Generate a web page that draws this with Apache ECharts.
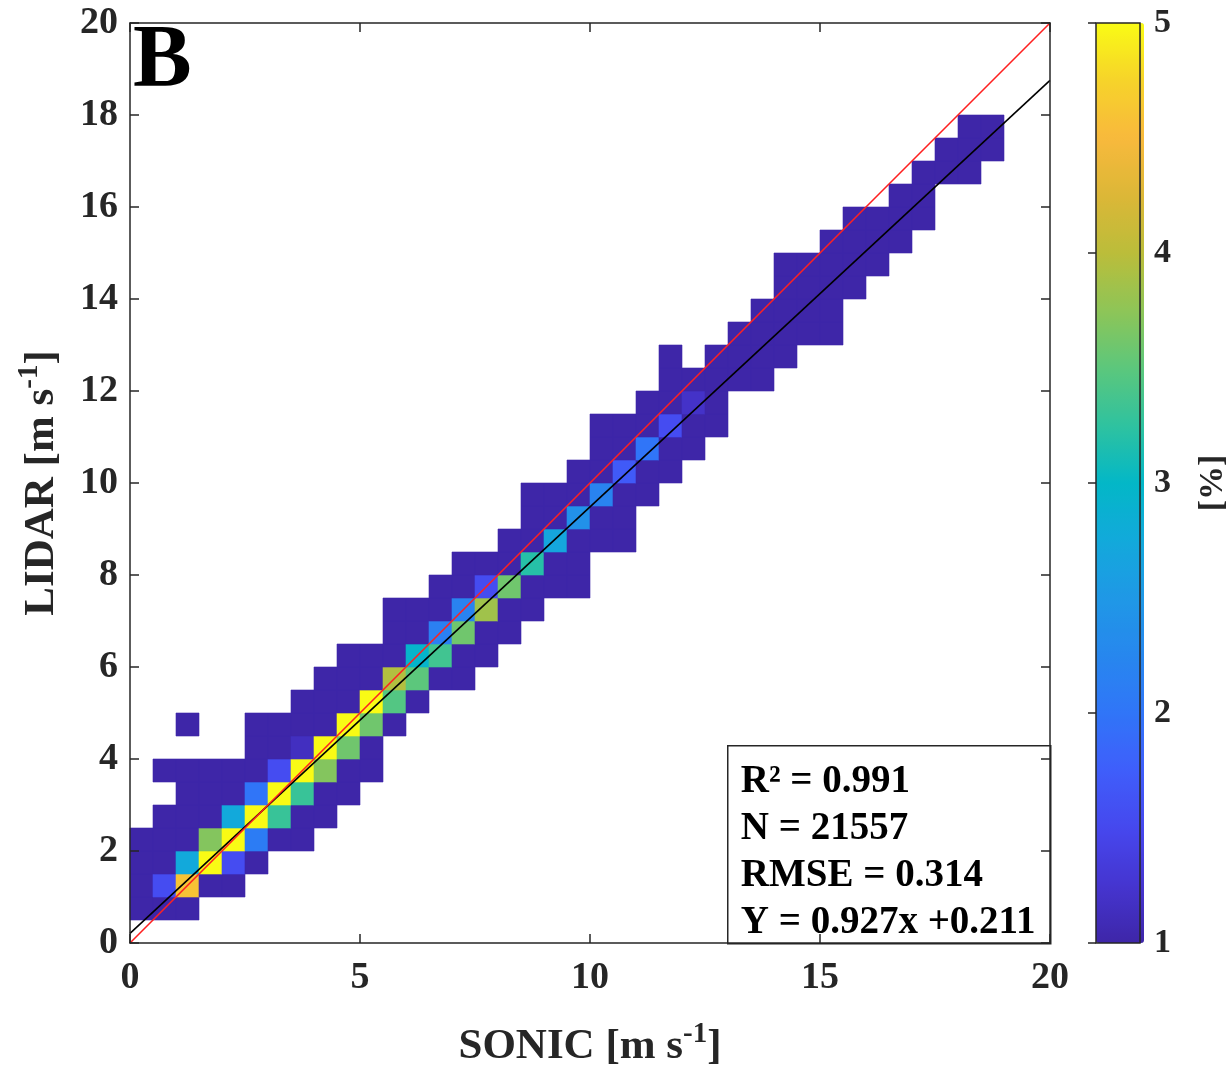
<!DOCTYPE html>
<html>
<head>
<meta charset="utf-8">
<title>LIDAR vs SONIC</title>
<script src="https://cdn.jsdelivr.net/npm/echarts@6/dist/echarts.min.js"></script>
<style>
  html, body { margin: 0; padding: 0; background: #fff; }
  #chart { width: 1231px; height: 1074px; }
</style>
</head>
<body>
<div id="chart"></div>
<script>
// 2D histogram LIDAR vs SONIC, 0.5 m/s bins, colour = share of samples [%]
var binSize = 0.5;
// lower edge of each LIDAR bin (one row each)
var rowY = [0.5, 1.0, 1.5, 2.0, 2.5, 3.0, 3.5, 4.0, 4.5, 5.0, 5.5, 6.0, 6.5, 7.0, 7.5, 8.0, 8.5, 9.0,
            9.5, 10.0, 10.5, 11.0, 11.5, 12.0, 12.5, 13.0, 13.5, 14.0, 14.5, 15.0, 15.5, 16.0, 16.5, 17.0, 17.5];
// lower edge of the first SONIC bin of each row
var rowX0 = [0, 0, 0, 0, 0.5, 1.0, 0.5, 2.5, 1.0, 3.5, 4.0, 4.5, 5.5, 5.5, 6.5, 7.0, 8.0, 8.5,
             8.5, 9.5, 10.0, 10.0, 11.0, 11.5, 11.5, 13.0, 13.5, 14.0, 14.0, 15.0, 15.5, 16.5, 17.0, 17.5, 18.0];
// cell values [%] along each row, null = empty bin
var rowValues = [
  [1, 1, 1],
  [1, 1.55, 4.6, 1, 1],
  [1, 1, 2.75, 5, 1.55, 1],
  [1, 1, 1, 3.7, 5, 2.1, 1, 1],
  [1, 1, 1, 2.75, 5, 3.3, 1, 1],
  [1, 1, 1, 2.0, 5, 3.3, 1, 1],
  [1, 1, 1, 1, 1, 1.55, 5, 3.7, 1, 1],
  [1, 1, 1.15, 5, 3.6, 1],
  [1, null, null, 1, 1, 1, 1, 5, 3.6, 1],
  [1, 1, 1, 5, 3.45, 1],
  [1, 1, 1, 3.95, 3.5, 1, 1],
  [1, 1, 1, 2.95, 3.35, 1, 1],
  [1, 1, 2.15, 3.6, 1, 1],
  [1, 1, 1, 2.2, 3.85, 1, 1],
  [1, 1, 1.55, 3.6, 1, 1, 1],
  [1, 1, 1, 3.2, 1, 1],
  [1, 1, 2.7, 1, 1, 1],
  [1, 1, 2.4, 1, 1],
  [1, 1, 1, 2.2, 1, 1],
  [1, 1, 1.7, 1, 1],
  [1, 1, 2.0, 1, 1],
  [1, 1, 1, 1.55, 1, 1],
  [1, 1, 1.2, 1],
  [1, 1, 1, 1, 1],
  [1, null, 1, 1, 1, 1],
  [1, 1, 1, 1, 1],
  [1, 1, 1, 1],
  [1, 1, 1, 1],
  [1, 1, 1, 1, 1],
  [1, 1, 1, 1],
  [1, 1, 1, 1],
  [1, 1],
  [1, 1, 1],
  [1, 1, 1],
  [1, 1]
];

var fitSlope = 0.927;
var fitIntercept = 0.211;
var statLines = ['R\u00b2 = 0.991', 'N = 21557', 'RMSE = 0.314', 'Y = 0.927x +0.211'];
var parula = ['#3E26A8', '#4535D0', '#4648EE', '#3F5EFB', '#3075F8', '#2787EE', '#1F98E6', '#12A9DB',
              '#03B7C7', '#2FC29F', '#5CC77C', '#8EC557', '#BBBD3A', '#DCB737', '#F8B93C', '#F6D32A', '#F9FB15'];

var cells = [];
rowValues.forEach(function (vals, r) {
  vals.forEach(function (v, k) {
    if (v != null) cells.push([rowX0[r] + k * binSize, rowY[r], v]);
  });
});

var axisColor = '#262626';
var serif = 'Liberation Serif';
var tickFont = { fontFamily: serif, fontWeight: 'bold', fontSize: 38, color: axisColor };
var nameRich = {
  m: { fontFamily: serif, fontWeight: 'bold', fontSize: 43, color: axisColor },
  sup: { fontFamily: serif, fontWeight: 'bold', fontSize: 29, color: axisColor, padding: [0, 0, 24, 0] }
};

function boxAxis(extra) {
  var ax = {
    type: 'value', min: 0, max: 20, z: 6,
    axisLine: { show: true, onZero: false, lineStyle: { color: axisColor, width: 1.5 } },
    axisTick: { show: true, inside: true, length: 9, lineStyle: { color: axisColor, width: 1.5 } },
    axisLabel: { show: false },
    splitLine: { show: false }
  };
  for (var k in extra) ax[k] = extra[k];
  return ax;
}

var chart = echarts.init(document.getElementById('chart'));
var option = {
  animation: false,
  backgroundColor: '#fff',
  grid: [
    { left: 130, top: 23, width: 920, height: 920 },
    { left: 1096, top: 23, width: 48, height: 920, show: true, z: 10,
      borderColor: axisColor, borderWidth: 1.5, backgroundColor: 'transparent' }
  ],
  xAxis: [
    boxAxis({ gridIndex: 0, position: 'bottom', interval: 5,
      axisLabel: Object.assign({ show: true, margin: 16 }, tickFont),
      name: '{m|SONIC [m s}{sup|-1}{m|]}', nameLocation: 'middle', nameGap: 77,
      nameTextStyle: { rich: nameRich } }),
    boxAxis({ gridIndex: 0, position: 'top', interval: 5 }),
    { gridIndex: 1, type: 'value', min: 0, max: 1, show: false }
  ],
  yAxis: [
    boxAxis({ gridIndex: 0, position: 'left', interval: 2,
      axisLabel: Object.assign({ show: true, margin: 12 }, tickFont),
      name: '{m|LIDAR [m s}{sup|-1}{m|]}', nameLocation: 'middle', nameGap: 62, nameRotate: 90,
      nameTextStyle: { rich: nameRich } }),
    boxAxis({ gridIndex: 0, position: 'right', interval: 2 }),
    { gridIndex: 1, type: 'value', min: 1, max: 5, interval: 1, position: 'right', z: 11,
      axisLine: { show: false },
      axisTick: { show: true, inside: true, length: 8, lineStyle: { color: axisColor, width: 1.5 } },
      axisLabel: Object.assign({ margin: 14 }, tickFont, { fontSize: 34 }),
      splitLine: { show: false },
      name: '[%]', nameLocation: 'middle', nameGap: 56, nameRotate: 90,
      nameTextStyle: { fontFamily: serif, fontWeight: 'bold', fontSize: 34, color: axisColor } }
  ],
  visualMap: {
    type: 'continuous', min: 1, max: 5, dimension: 2, seriesIndex: 0,
    calculable: false, hoverLink: false, show: true, padding: 0,
    left: 1096, top: 23, itemWidth: 48, itemHeight: 920,
    inRange: { color: parula }
  },
  series: [
    {
      type: 'custom', xAxisIndex: 0, yAxisIndex: 0,
      dimensions: ['sonic', 'lidar', 'pct'],
      encode: { x: 0, y: 1 },
      data: cells,
      renderItem: function (params, api) {
        var x = api.value(0), y = api.value(1);
        var a = api.coord([x, y]);
        var b = api.coord([x + binSize, y + binSize]);
        var c = api.visual('color');
        return {
          type: 'rect',
          shape: { x: a[0], y: b[1], width: b[0] - a[0], height: a[1] - b[1] },
          style: { fill: c, stroke: c, lineWidth: 0.6 }
        };
      }
    },
    {
      type: 'line', xAxisIndex: 0, yAxisIndex: 0, showSymbol: false, z: 4,
      lineStyle: { color: '#000', width: 1.6 },
      data: [[0, fitIntercept], [20, fitSlope * 20 + fitIntercept]]
    },
    {
      type: 'line', xAxisIndex: 0, yAxisIndex: 0, showSymbol: false, z: 5,
      lineStyle: { color: '#ff2020', width: 1.6 },
      data: [[0, 0], [20, 20]]
    }
  ],
  graphic: [
    { type: 'text', left: 133, top: 18, z: 8,
      style: { text: 'B', font: 'bold 88px "Liberation Serif"', fill: '#000' } },
    { type: 'group', left: 727, top: 745, z: 3,
      children: [
        { type: 'rect', shape: { x: 0, y: 0, width: 323, height: 198 },
          style: { fill: '#fff', stroke: axisColor, lineWidth: 1.5 } }
      ].concat(statLines.map(function (t, k) {
        return { type: 'text', x: 13, y: 36 + k * 47,
          style: { text: t, font: 'bold 39px "Liberation Serif"', fill: '#000', verticalAlign: 'middle' } };
      }))
    }
  ]
};
chart.setOption(option);
</script>
</body>
</html>
